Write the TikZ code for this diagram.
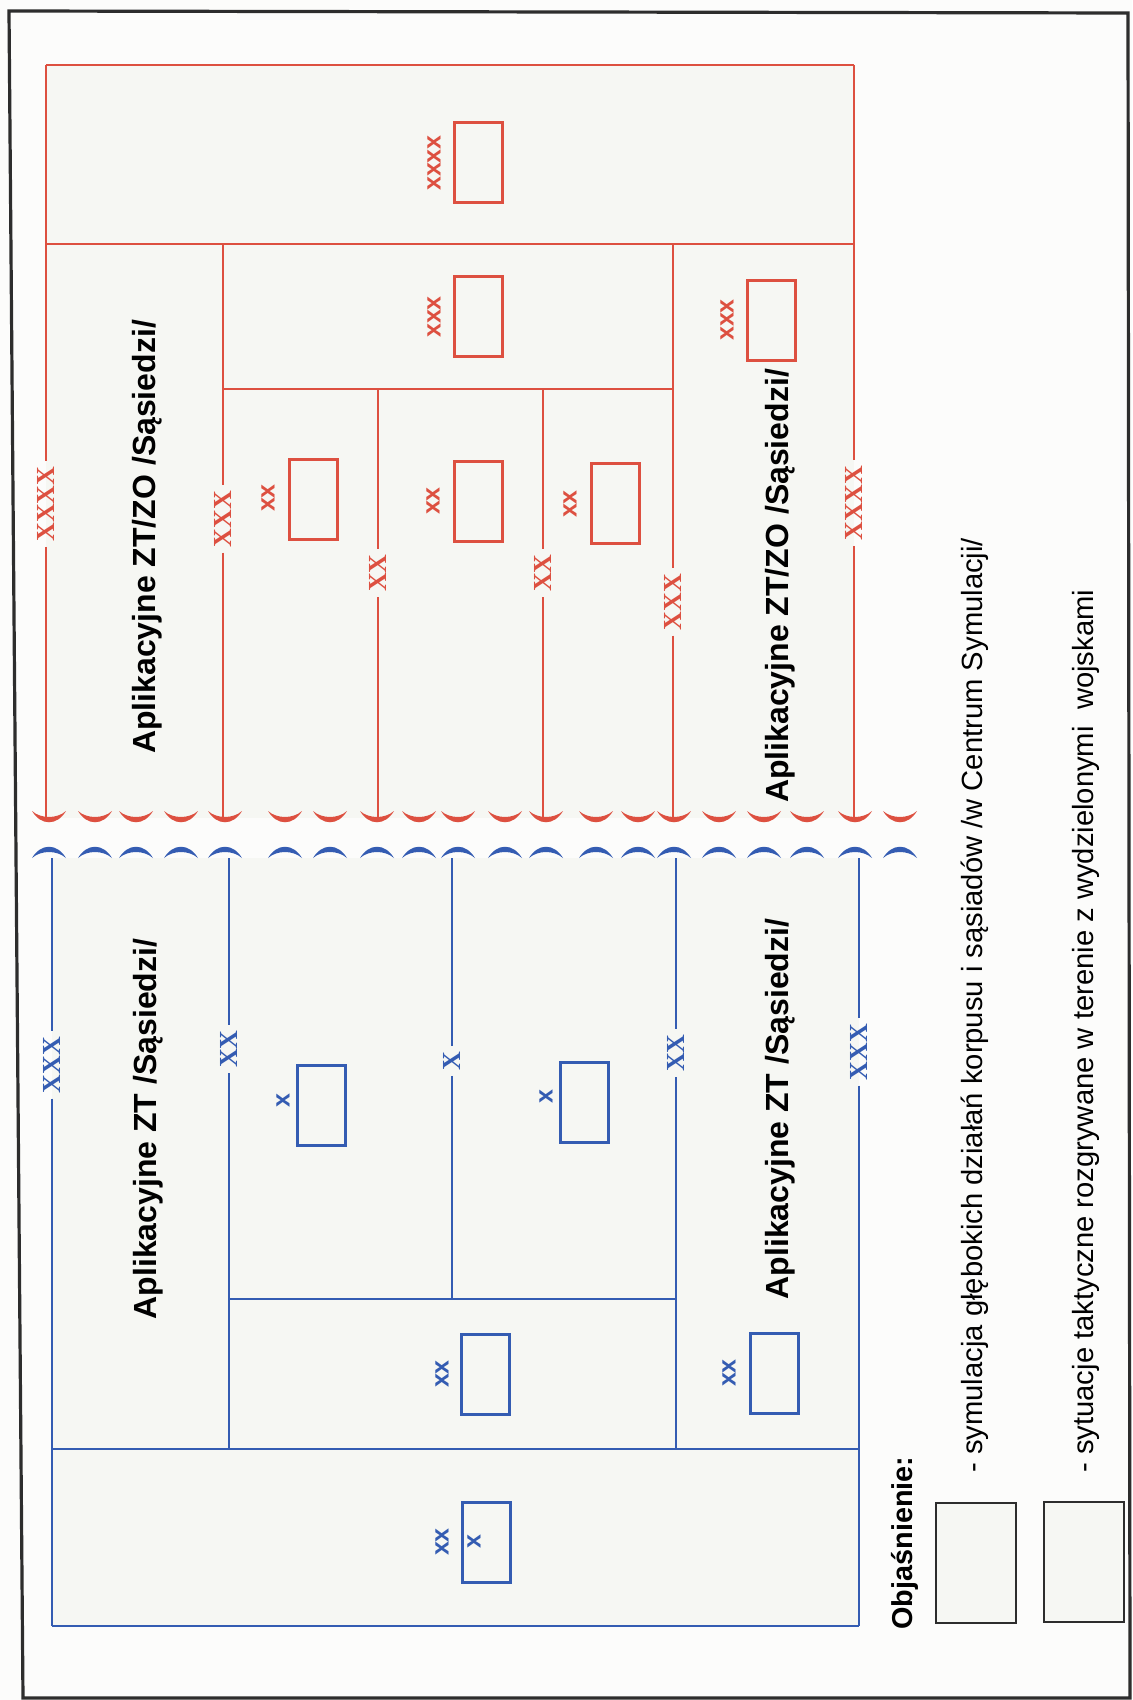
\documentclass[tikz,border=0pt]{standalone}
\usepackage{fontspec}
\setmainfont{Liberation Sans}
\newfontfamily\echelonfont{Liberation Serif}
\usepackage{xcolor}
\usepackage{tikz}
\usetikzlibrary{positioning}
\definecolor{frontred}{RGB}{221, 80, 64}
\definecolor{frontblue}{RGB}{52, 92, 178}
\definecolor{panelgray}{RGB}{246, 247, 243}
\definecolor{papergray}{RGB}{252, 252, 251}
\definecolor{framegray}{RGB}{45, 45, 45}

\begin{document}
\begin{tikzpicture}[x=0.5pt, y=-0.5pt,
  redline/.style={frontred, line width=1pt},
  blueline/.style={frontblue, line width=1pt},
  unitbox/.style={draw, line width=1.5pt, minimum width=24pt, minimum height=40pt, inner sep=0pt},
  echelon/.style={font=\echelonfont\bfseries\fontsize{13}{13}\selectfont, rotate=90, inner sep=2.5pt},
  sizelabel/.style={font=\bfseries\fontsize{12.5}{12.5}\selectfont, rotate=90, inner sep=0pt},
  biglabel/.style={font=\bfseries\fontsize{16}{16}\selectfont, rotate=90, inner sep=0pt, anchor=base},
  keybox/.style={draw=framegray, fill=panelgray, line width=1.2pt, minimum width=40pt, minimum height=60pt, inner sep=0pt},
  keytext/.style={font=\fontsize{14.6}{14.6}\selectfont, rotate=90, inner sep=0pt, anchor=base west}]

\useasboundingbox[fill=papergray] (0,0) rectangle (1132,1700);

% Page frame
\draw[framegray, line width=1.6pt] (9,11) -- (1128,13) -- (1130,1698) -- (23,1698) -- cycle;

% Panels
\fill[panelgray] (46,65) rectangle (854,818);
\fill[panelgray] (52,858) rectangle (859,1626);

% Front line: red and blue arcs
\foreach \cx in {49,95,136,181,225,285,330,377,419,458,505,546,596,638,674,719,764,807,855,900} {
  \fill[frontred] (\cx-17,811) .. controls (\cx-8,826) and (\cx+8,826) .. (\cx+17,811)
    .. controls (\cx+8,819) and (\cx-8,819) .. cycle;
  \fill[frontblue] (\cx-17,858) .. controls (\cx-8,843) and (\cx+8,843) .. (\cx+17,858)
    .. controls (\cx+8,850) and (\cx-8,850) .. cycle;
}

% Red side: boundary marks
\node[echelon, text=frontred] at (46,504) (rmA) {XXXX};
\node[echelon, text=frontred] at (223,519) (rmB) {XXX};
\node[echelon, text=frontred] at (378,573) (rmC) {XX};
\node[echelon, text=frontred] at (543,573) (rmD) {XX};
\node[echelon, text=frontred] at (673,602) (rmE) {XXX};
\node[echelon, text=frontred] at (854,503) (rmF) {XXXX};

\coordinate (rA1) at (46,65);   \coordinate (rA2) at (46,818);
\coordinate (rB1) at (223,244); \coordinate (rB2) at (223,818);
\coordinate (rC1) at (378,389); \coordinate (rC2) at (378,818);
\coordinate (rD1) at (543,389); \coordinate (rD2) at (543,818);
\coordinate (rE1) at (673,244); \coordinate (rE2) at (673,818);
\coordinate (rF1) at (854,65);  \coordinate (rF2) at (854,818);

% Red side: boundaries
\foreach \m in {A,B,C,D,E,F}
  \draw[redline] (r\m1) -- (rm\m) -- (r\m2);
\draw[redline] (rA1) -- (rF1);
\draw[redline] (rA1 |- rB1) -- (rF1 |- rB1);
\draw[redline] (rB1 |- rC1) -- (rE1 |- rC1);

% Red side: units
\node[unitbox, draw=frontred] at (478,163) (rbox1) {};
\node[sizelabel, text=frontred] at (434,163) (rsize1) {xxxx};
\node[unitbox, draw=frontred] at (478,317) (rbox2) {};
\node[sizelabel, text=frontred] at (434,317) (rsize2) {xxx};
\node[unitbox, draw=frontred] at (771,321) (rbox3) {};
\node[sizelabel, text=frontred] at (727,320) (rsize3) {xxx};
\node[unitbox, draw=frontred] at (313,499) (rbox4) {};
\node[sizelabel, text=frontred] at (268,498) (rsize4) {xx};
\node[unitbox, draw=frontred] at (478,501) (rbox5) {};
\node[sizelabel, text=frontred] at (433,501) (rsize5) {xx};
\node[unitbox, draw=frontred] at (615,503) (rbox6) {};
\node[sizelabel, text=frontred] at (570,504) (rsize6) {xx};

% Red side: titles
\node[biglabel] at (155,537) (rtitleA) {Aplikacyjne ZT/ZO /Sąsiedzi/};
\node[biglabel] at (788,586) (rtitleB) {Aplikacyjne ZT/ZO /Sąsiedzi/};

% Blue side: boundary marks
\node[echelon, text=frontblue] at (52,1065) (bmA) {XXX};
\node[echelon, text=frontblue] at (229,1049) (bmB) {XX};
\node[echelon, text=frontblue] at (452,1061) (bmC) {X};
\node[echelon, text=frontblue] at (676,1053) (bmD) {XX};
\node[echelon, text=frontblue] at (859,1052) (bmE) {XXX};

\coordinate (bA1) at (52,858);  \coordinate (bA2) at (52,1626);
\coordinate (bB1) at (229,858); \coordinate (bB2) at (229,1449);
\coordinate (bC1) at (452,858); \coordinate (bC2) at (452,1299);
\coordinate (bD1) at (676,858); \coordinate (bD2) at (676,1449);
\coordinate (bE1) at (859,858); \coordinate (bE2) at (859,1626);

% Blue side: boundaries
\foreach \m in {A,B,C,D,E}
  \draw[blueline] (b\m1) -- (bm\m) -- (b\m2);
\draw[blueline] (bA2) -- (bE2);
\draw[blueline] (bA1 |- bB2) -- (bE1 |- bB2);
\draw[blueline] (bB1 |- bC2) -- (bD1 |- bC2);

% Blue side: units
\node[unitbox, draw=frontblue] at (321,1105) (bbox1) {};
\node[sizelabel, text=frontblue] at (283,1101) (bsize1) {x};
\node[unitbox, draw=frontblue] at (584,1102) (bbox2) {};
\node[sizelabel, text=frontblue] at (546,1097) (bsize2) {x};
\node[unitbox, draw=frontblue] at (485,1374) (bbox3) {};
\node[sizelabel, text=frontblue] at (442,1374) (bsize3) {xx};
\node[unitbox, draw=frontblue] at (774,1373) (bbox4) {};
\node[sizelabel, text=frontblue] at (729,1373) (bsize4) {xx};
\node[unitbox, draw=frontblue] at (486,1542) (bbox5) {};
\node[sizelabel, text=frontblue] at (442,1542) (bsize5) {xx};
\node[sizelabel, text=frontblue] at (474,1542) (bsign5) {x};

% Blue side: titles
\node[biglabel] at (156,1129) (btitleA) {Aplikacyjne ZT /Sąsiedzi/};
\node[biglabel] at (788,1109) (btitleB) {Aplikacyjne ZT /Sąsiedzi/};

% Legend
\node[font=\bfseries\fontsize{14.4}{14.4}\selectfont, rotate=90, inner sep=0pt, anchor=base west] at (912,1630) (keytitle) {Objaśnienie:};
\node[keybox] at (976,1563) (keyA) {};
\node[keybox] at (1084,1562) (keyB) {};
\node[keytext] at (982,1473) (keyAtext) {- symulacja głębokich działań korpusu i sąsiadów /w Centrum Symulacji/};
\node[keytext] at (1093,1473) (keyBtext) {- sytuacje taktyczne rozgrywane w terenie z wydzielonymi\ \ wojskami};
\end{tikzpicture}
\end{document}
